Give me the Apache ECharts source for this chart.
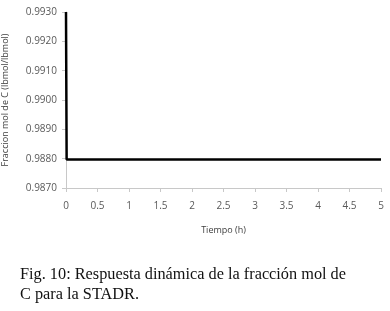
<!DOCTYPE html>
<html>
<head>
<meta charset="utf-8">
<script src="https://cdn.jsdelivr.net/npm/echarts@6/dist/echarts.min.js"></script>
<style>
  html, body { margin: 0; padding: 0; background: #fff; }
  #chart { width: 390px; height: 311px; }
</style>
</head>
<body>
<div id="chart"></div>
<script>
// Time (h) and mole fraction of C (lbmol/lbmol)
var tiempo = [0, 0.01, 0.5, 1, 1.5, 2, 2.5, 3, 3.5, 4, 4.5, 5];
var fraccionC = [0.9930, 0.98797, 0.98797, 0.98797, 0.98797, 0.98797, 0.98797, 0.98797, 0.98797, 0.98797, 0.98797, 0.98797];

var yMin = 0.9870, yMax = 0.9930, yStep = 0.0010;
var xMin = 0, xMax = 5, xStep = 0.5;

var caption = [
  'Fig. 10: Respuesta dinámica de la fracción mol de',
  'C para la STADR.'
];

var chart = echarts.init(document.getElementById('chart'));
var axisFont = '"Open Sans", "Liberation Sans", sans-serif';
var serif = '"Liberation Serif", "DejaVu Serif", serif';

chart.setOption({
  animation: false,
  backgroundColor: '#fff',
  grid: { left: 66, right: 9, top: 12, bottom: 123, outerBoundsMode: 'none', containLabel: false },
  xAxis: {
    type: 'value', min: xMin, max: xMax, interval: xStep,
    name: 'Tiempo (h)', nameLocation: 'middle', nameGap: 38,
    nameTextStyle: { fontFamily: axisFont, fontSize: 9, color: '#404040' },
    axisLine: { lineStyle: { color: '#c8c8c8', width: 1 } },
    axisTick: { show: true, length: 4, lineStyle: { color: '#c8c8c8' } },
    axisLabel: { fontFamily: axisFont, fontSize: 10, color: '#595959', margin: 13 },
    splitLine: { show: false }
  },
  yAxis: {
    type: 'value', min: yMin, max: yMax, interval: yStep,
    name: 'Fraccion mol de C (lbmol/lbmol)', nameLocation: 'middle', nameGap: 56,
    nameTextStyle: { fontFamily: axisFont, fontSize: 9, color: '#404040' },
    axisLine: { show: true, lineStyle: { color: '#c8c8c8', width: 1 } },
    axisTick: { show: true, length: 4, lineStyle: { color: '#c8c8c8' } },
    axisLabel: {
      fontFamily: axisFont, fontSize: 10, color: '#595959', margin: 9,
      formatter: function (v) { return v.toFixed(4); }
    },
    splitLine: { show: false }
  },
  series: [{
    type: 'line',
    data: tiempo.map(function (t, i) { return [t, fraccionC[i]]; }),
    showSymbol: false,
    lineStyle: { color: '#000', width: 2.5 }
  }],
  graphic: caption.map(function (txt, i) {
    return {
      type: 'text', left: 20, top: 267 + i * 20,
      style: { text: txt, font: '16.3px ' + serif, fill: '#111' }
    };
  })
});
</script>
</body>
</html>
